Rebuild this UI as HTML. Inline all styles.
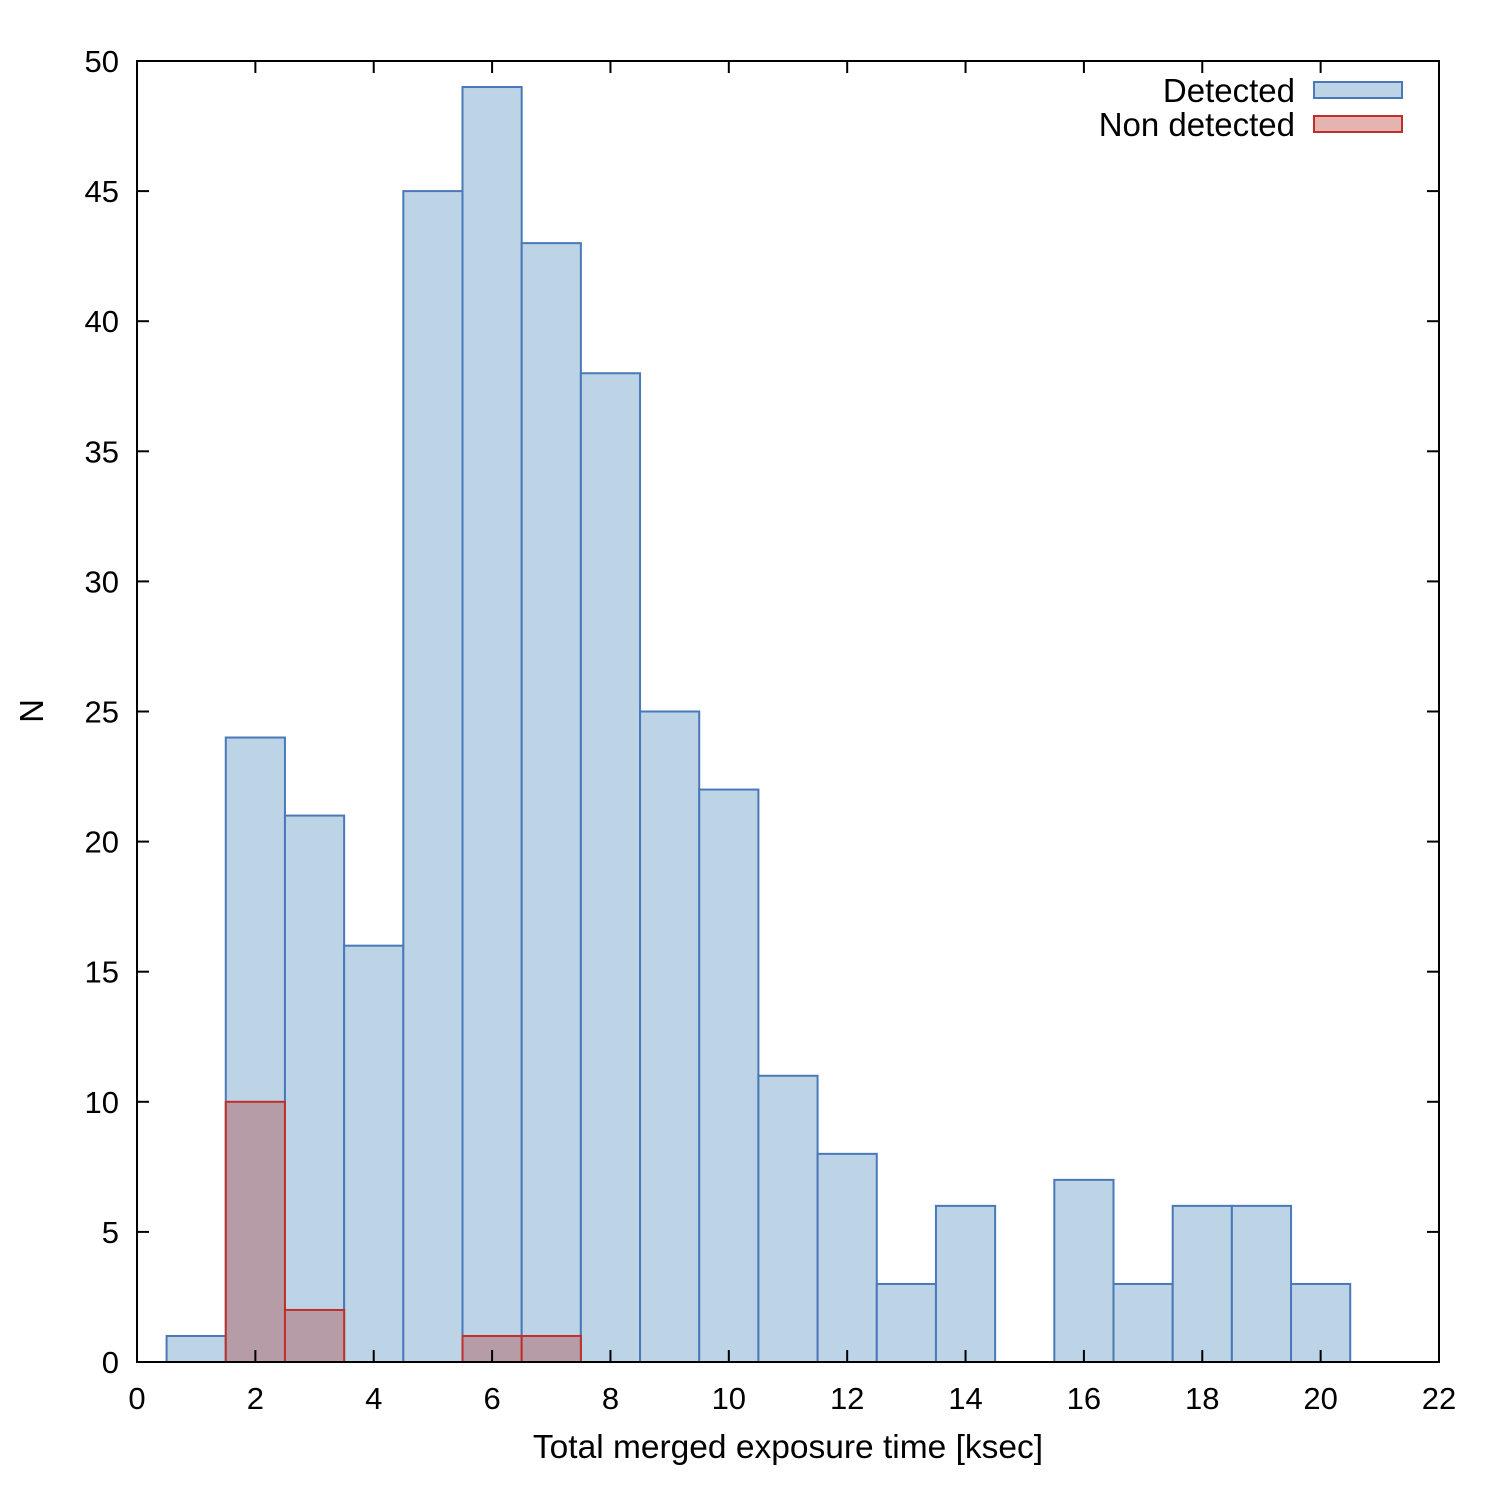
<!DOCTYPE html>
<html><head><meta charset="utf-8"><style>
html,body{margin:0;padding:0;background:#fff;}
svg text{font-family:"Liberation Sans",sans-serif;fill:#000;}
</style></head><body>
<svg id="chart" width="1494" height="1494" xmlns="http://www.w3.org/2000/svg"></svg>
<script>
const binCenters = [1,2,3,4,5,6,7,8,9,10,11,12,13,14,15,16,17,18,19,20];
const detected = [1,24,21,16,45,49,43,38,25,22,11,8,3,6,0,7,3,6,6,3];
const nonCenters = [2,3,6,7];
const nonDetected = [10,2,1,1];
const xTicks = [0,2,4,6,8,10,12,14,16,18,20,22];
const yTicks = [0,5,10,15,20,25,30,35,40,45,50];

const L=137,R=1439,T=61,B=1362;
const xs=v=>L+(v/22)*(R-L);
const ys=v=>B-(v/50)*(B-T);
const svg=document.getElementById('chart');
const NS='http://www.w3.org/2000/svg';
function mk(tag,attrs,parent){const e=document.createElementNS(NS,tag);for(const k in attrs)e.setAttribute(k,attrs[k]);(parent||svg).appendChild(e);return e;}

detected.forEach((v,i)=>{
  if(v<=0)return;
  const r=mk('rect',{x:xs(binCenters[i]-0.5),y:ys(v),width:xs(binCenters[i]+0.5)-xs(binCenters[i]-0.5),height:ys(0)-ys(v),fill:'#bcd4e6',stroke:'#4a78b8','stroke-width':2});
  
  
});
nonDetected.forEach((v,i)=>{
  const r=mk('rect',{x:xs(nonCenters[i]-0.5),y:ys(v),width:xs(nonCenters[i]+0.5)-xs(nonCenters[i]-0.5),height:ys(0)-ys(v),fill:'#b59ca6',stroke:'#c0302a','stroke-width':2});
  
  
});

const frame=mk('rect',{x:L,y:T,width:R-L,height:B-T,fill:'none',stroke:'#000','stroke-width':2});



xTicks.forEach(t=>{
  const x=xs(t);
  mk('line',{x1:x,y1:B,x2:x,y2:B-12,stroke:'#000','stroke-width':2});
  mk('line',{x1:x,y1:T,x2:x,y2:T+12,stroke:'#000','stroke-width':2});
  const tx=mk('text',{x:x,y:B+47,'text-anchor':'middle','font-size':31});
  tx.textContent=t;
  
  
});
yTicks.forEach(t=>{
  const y=ys(t);
  mk('line',{x1:L,y1:y,x2:L+12,y2:y,stroke:'#000','stroke-width':2});
  mk('line',{x1:R,y1:y,x2:R-12,y2:y,stroke:'#000','stroke-width':2});
  const tx=mk('text',{x:L-18,y:y+11,'text-anchor':'end','font-size':31});
  tx.textContent=t;
  
  
});
</script>
<svg style="position:absolute;left:0;top:0" width="1494" height="1494">
<text x="788" y="1458" text-anchor="middle" font-size="33.5">Total merged exposure time [ksec]</text>
<text x="0" y="0" text-anchor="middle" font-size="33" transform="translate(43,711) rotate(-90)">N</text>
<g>
<text x="1295" y="102" text-anchor="end" font-size="33">Detected</text>
<rect x="1314" y="82" width="88" height="16" fill="#bcd4e6" stroke="#4a78b8" stroke-width="2"/>
<text x="1295" y="136" text-anchor="end" font-size="33">Non detected</text>
<rect x="1314" y="116" width="88" height="16" fill="#e6b4b0" stroke="#c0302a" stroke-width="2"/>
</g>
</svg>
</body></html>
